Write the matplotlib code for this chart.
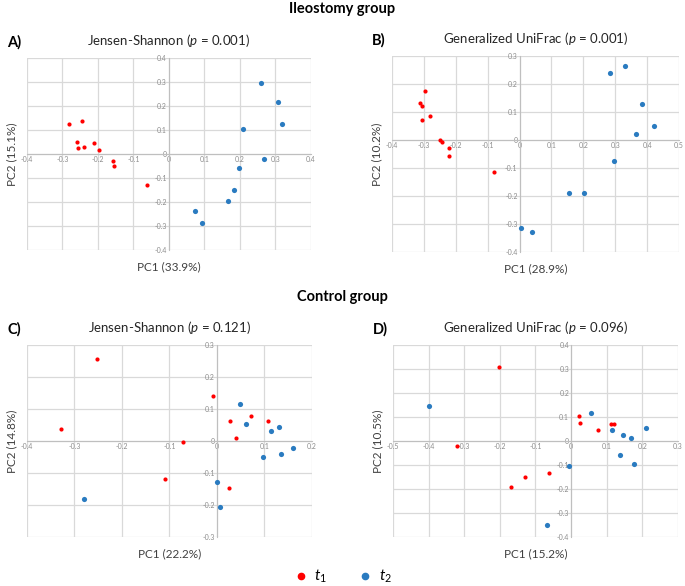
import numpy as np
import matplotlib
matplotlib.use('Agg')
import matplotlib.pyplot as plt
from matplotlib.lines import Line2D

plt.rcParams['font.family'] = ['Lato', 'DejaVu Sans']
plt.rcParams['mathtext.fontset'] = 'custom'
plt.rcParams['mathtext.rm'] = 'Lato'
plt.rcParams['mathtext.it'] = 'Lato:italic'

RED = '#ff0000'
BLUE = '#2a7bc0'

# A) Ileostomy, Jensen-Shannon
a_t1_x = [-0.283, -0.245, -0.259, -0.257, -0.238, -0.210, -0.197, -0.159, -0.156, -0.062]
a_t1_y = [0.126, 0.139, 0.052, 0.027, 0.031, 0.046, 0.015, -0.031, -0.052, -0.131]
a_t2_x = [0.260, 0.308, 0.319, 0.208, 0.268, 0.198, 0.183, 0.166, 0.073, 0.094]
a_t2_y = [0.295, 0.218, 0.124, 0.106, -0.019, -0.057, -0.150, -0.196, -0.238, -0.289]

# B) Ileostomy, Generalized UniFrac
b_t1_x = [-0.296, -0.312, -0.306, -0.280, -0.306, -0.251, -0.242, -0.220, -0.221, -0.080]
b_t1_y = [0.174, 0.131, 0.120, 0.085, 0.070, 0.000, -0.006, -0.027, -0.058, -0.115]
b_t2_x = [0.330, 0.282, 0.383, 0.423, 0.364, 0.295, 0.155, 0.202, 0.003, 0.040]
b_t2_y = [0.265, 0.239, 0.130, 0.051, 0.022, -0.074, -0.190, -0.190, -0.314, -0.329]

# C) Control, Jensen-Shannon
c_t1_x = [-0.252, -0.328, -0.071, -0.008, 0.027, 0.072, 0.108, 0.041, -0.109, 0.025]
c_t1_y = [0.256, 0.037, -0.002, 0.141, 0.064, 0.077, 0.064, 0.008, -0.119, -0.148]
c_t2_x = [0.049, 0.061, 0.113, 0.130, 0.160, 0.135, 0.097, 0.001, 0.006, -0.279]
c_t2_y = [0.117, 0.052, 0.030, 0.045, -0.022, -0.040, -0.050, -0.129, -0.207, -0.180]

# D) Control, Generalized UniFrac
d_t1_x = [-0.203, -0.321, 0.022, 0.026, 0.076, 0.111, 0.120, -0.063, -0.130, -0.168]
d_t1_y = [0.309, -0.019, 0.103, 0.077, 0.046, 0.073, 0.073, -0.132, -0.152, -0.191]
d_t2_x = [-0.398, 0.055, 0.115, 0.147, 0.168, 0.211, 0.136, 0.178, -0.005, -0.067]
d_t2_y = [0.144, 0.117, 0.048, 0.026, 0.012, 0.056, -0.059, -0.095, -0.102, -0.349]

panels = [
    ('A)', 'Jensen-Shannon ($p$ = 0.001)', 'PC1 (33.9%)', 'PC2 (15.1%)',
     (-0.4, 0.4), (-0.4, 0.4), a_t1_x, a_t1_y, a_t2_x, a_t2_y,
     [0.0394, 0.5734, 0.4146, 0.3276]),
    ('B)', 'Generalized UniFrac ($p$ = 0.001)', 'PC1 (28.9%)', 'PC2 (10.2%)',
     (-0.4, 0.5), (-0.4, 0.3), b_t1_x, b_t1_y, b_t2_x, b_t2_y,
     [0.5723, 0.5700, 0.4190, 0.3345]),
    ('C)', 'Jensen-Shannon ($p$ = 0.121)', 'PC1 (22.2%)', 'PC2 (14.8%)',
     (-0.4, 0.2), (-0.3, 0.3), c_t1_x, c_t1_y, c_t2_x, c_t2_y,
     [0.0394, 0.0836, 0.4160, 0.3276]),
    ('D)', 'Generalized UniFrac ($p$ = 0.096)', 'PC1 (15.2%)', 'PC2 (10.5%)',
     (-0.5, 0.3), (-0.4, 0.4), d_t1_x, d_t1_y, d_t2_x, d_t2_y,
     [0.5737, 0.0836, 0.4160, 0.3276]),
]


def fmt(v):
    return '0' if abs(v) < 1e-9 else ('%.1f' % v)


fig = plt.figure(figsize=(6.85, 5.86), dpi=100)

for letter, title, xl, yl, xlim, ylim, x1, y1, x2, y2, rect in panels:
    ax = fig.add_axes(rect)
    ax.set_xlim(*xlim)
    ax.set_ylim(*ylim)
    xt = np.round(np.arange(xlim[0], xlim[1] + 0.001, 0.1), 2)
    yt = np.round(np.arange(ylim[0], ylim[1] + 0.001, 0.1), 2)
    ax.set_xticks(xt)
    ax.set_yticks(yt)
    ax.set_xticklabels([fmt(v) for v in xt])
    ax.set_yticklabels([fmt(v) for v in yt])
    ax.grid(True, color='#d9d9d9', linewidth=0.9)
    for gl in ax.get_xgridlines() + ax.get_ygridlines():
        gl.set_clip_on(False)
    ax.set_axisbelow(True)
    for s in ['top', 'right']:
        ax.spines[s].set_visible(False)
    ax.spines['left'].set_position(('data', 0))
    ax.spines['bottom'].set_position(('data', 0))
    ax.spines['left'].set_color('#bfbfbf')
    ax.spines['bottom'].set_color('#bfbfbf')
    ax.tick_params(length=0, labelsize=5, labelcolor='#8c8c8c', pad=1.5)
    for lab in ax.get_xticklabels() + ax.get_yticklabels():
        lab.set_clip_on(False)
    ax.scatter(x1, y1, s=9, color=RED, zorder=3, linewidths=0)
    ax.scatter(x2, y2, s=14, color=BLUE, zorder=3, linewidths=0)
    ax.text(0.5, 1.045, title, transform=ax.transAxes, ha='center', va='bottom',
            fontsize=9.5, color='#262626')
    ax.text(-0.07, 1.045, letter, transform=ax.transAxes, ha='left', va='bottom',
            fontsize=10.5, fontweight='bold')
    ax.text(0.5, -0.06, xl, transform=ax.transAxes, ha='center', va='top',
            fontsize=8.5, color='#404040')
    ax.text(-0.035, 0.5, yl, transform=ax.transAxes, ha='right', va='center',
            rotation=90, fontsize=8.5, color='#404040')

fig.text(0.5, 0.996, 'Ileostomy group', ha='center', va='top',
         fontsize=10.5, fontweight='bold')
fig.text(0.5, 0.493, 'Control group', ha='center', va='center',
         fontsize=10.5, fontweight='bold')

handles = [
    Line2D([], [], linestyle='none', marker='o', markersize=4.5, color=RED),
    Line2D([], [], linestyle='none', marker='o', markersize=4.5, color=BLUE),
]
fig.legend(handles, [r'$t_1$', r'$t_2$'], loc='center', bbox_to_anchor=(0.5, 0.016),
           ncol=2, frameon=False, fontsize=11, handletextpad=0.4, columnspacing=2.0,
           handlelength=1.0)

fig.savefig('out.png', dpi=100)
